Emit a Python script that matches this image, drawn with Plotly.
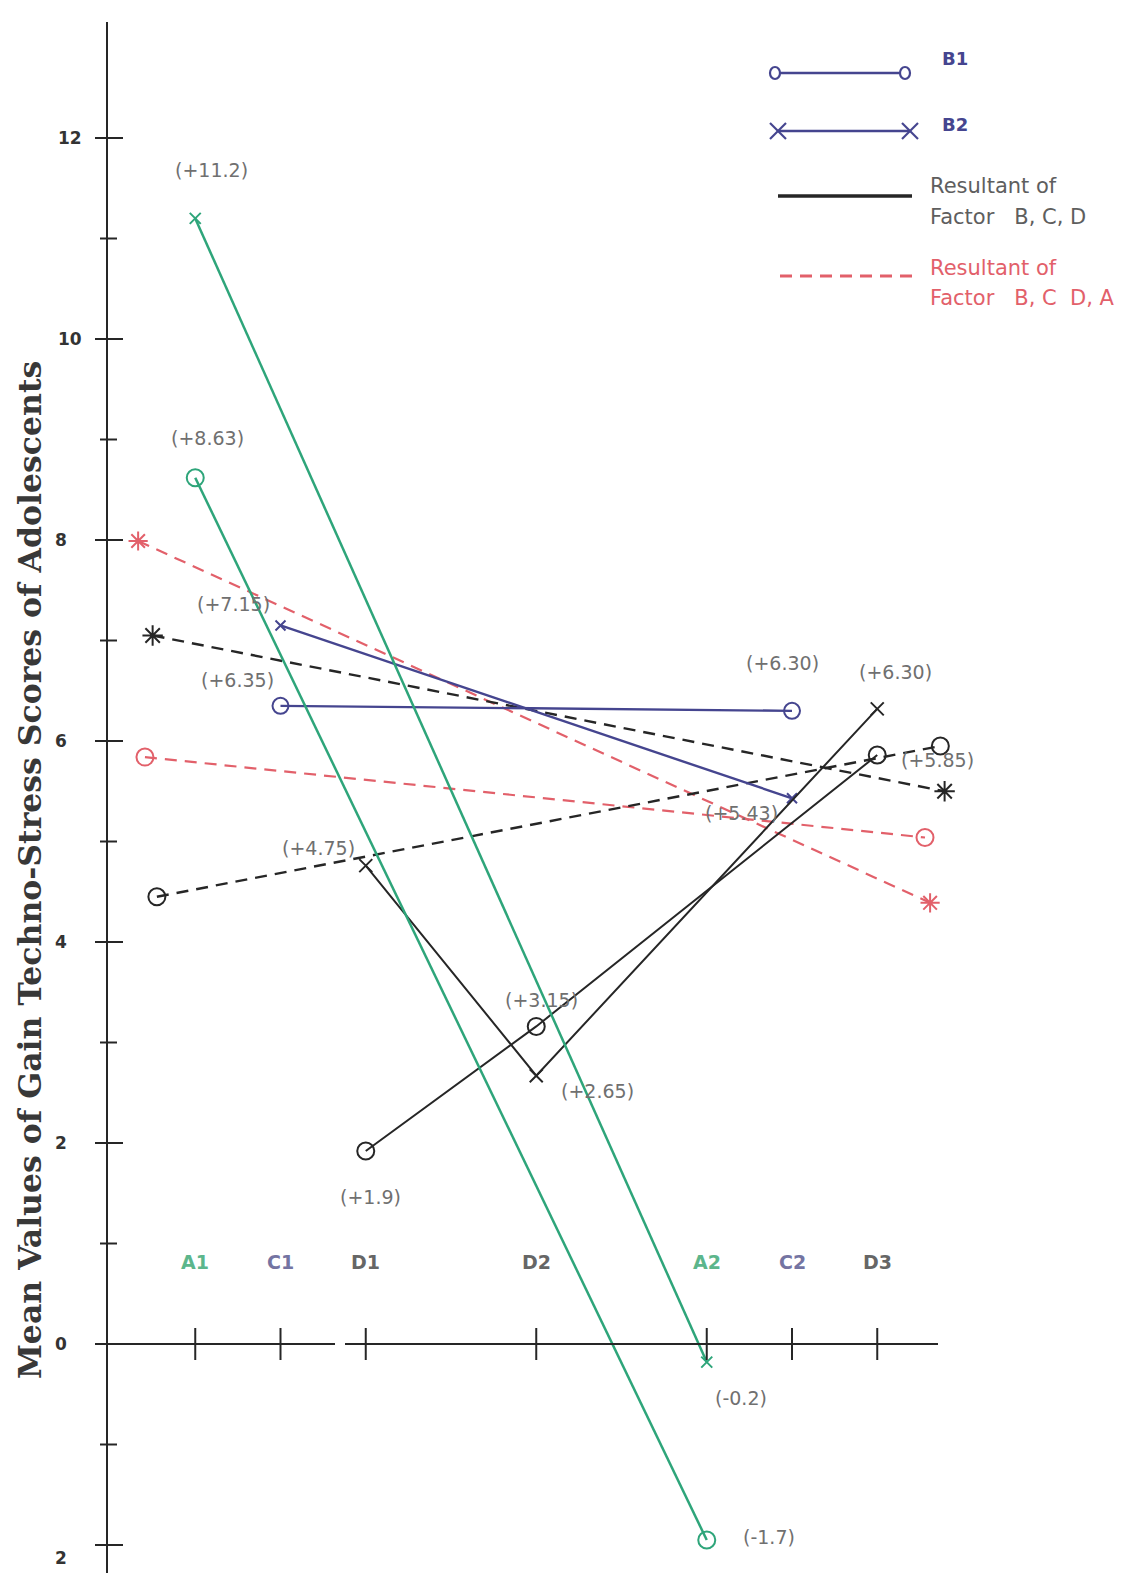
import plotly.graph_objects as go

W, H = 1148, 1573
OFF = 8  # page body margin compensation

# ---------------- data ----------------
categories = ["A1", "C1", "D1", "D2", "A2", "C2", "D3"]
cat_x = [1, 2, 3, 5, 7, 8, 9]
cat_colors = ["#5cb68c", "#7474a2", "#666666", "#666666", "#5cb68c", "#7474a2", "#666666"]

y_major = [12, 10, 8, 6, 4, 2, 0, -2]
y_major_text = ["12", "10", "8", "6", "4", "2", "0", "2"]
y_minor = [11, 9, 7, 5, 3, 1, -1]

# Factor A (green)
a_x = [1, 7]
a_b2 = [11.2, -0.18]
a_b1 = [8.62, -1.95]
# Factor C (blue)
c_x = [2, 8]
c_b1 = [6.35, 6.30]
c_b2 = [7.15, 5.43]
# Factor D (black)
d_x = [3, 5, 9]
d_b1 = [1.92, 3.16, 5.86]
d_b2 = [4.76, 2.67, 6.32]
# Resultant of factor B, C, D (black dashed)
rbcd_b1_x = [0.55, 9.74]
rbcd_b1 = [4.45, 5.95]
rbcd_b2_x = [0.50, 9.79]
rbcd_b2 = [7.05, 5.50]
# Resultant of factor B, C, D, A (red dashed)
rall_b1_x = [0.41, 9.56]
rall_b1 = [5.84, 5.04]
rall_b2_x = [0.33, 9.62]
rall_b2 = [7.99, 4.39]

# ---------------- geometry helpers (reference pixel layout) ----------------
X0, XU = 110.0, 85.25
Y0, YU = 1344.0, 100.5


def px2x(px):
    return (px - X0) / XU


def py2y(py):
    return (Y0 - py) / YU


def pxp(px):
    return (px - OFF) / W


def pyp(py):
    return 1 - (py - OFF) / H


GREEN = "#2ea57a"
NAVY = "#45458f"
BLACK = "#262626"
RED = "#e2606a"
GRAY = "#707070"

fig = go.Figure()


def add(xs, ys, color, symbol, size, dash="solid", width=2.2, mwidth=2):
    fig.add_trace(go.Scatter(
        x=xs, y=ys, mode="lines+markers",
        line=dict(color=color, width=width, dash=dash),
        marker=dict(symbol=symbol, size=size, color=color,
                    line=dict(color=color, width=mwidth)),
        showlegend=False, hoverinfo="skip"))


DASH = "12px,8px"
add(rall_b1_x, rall_b1, RED, "circle-open", 17, DASH, 2.2)
add(rall_b2_x, rall_b2, RED, "asterisk-open", 16, DASH, 2.2)
add(rbcd_b1_x, rbcd_b1, BLACK, "circle-open", 17, DASH, 2.4)
add(rbcd_b2_x, rbcd_b2, BLACK, "asterisk-open", 17, DASH, 2.4)
add(c_x, c_b1, NAVY, "circle-open", 16, width=2.4)
add(c_x, c_b2, NAVY, "x-thin-open", 10, width=2.4)
add(d_x, d_b1, BLACK, "circle-open", 17, width=2)
add(d_x, d_b2, BLACK, "x-thin-open", 13, width=2)
add(a_x, a_b2, GREEN, "x-thin-open", 11, width=2.5)
add(a_x, a_b1, GREEN, "circle-open", 17, width=2.5)

shapes = []
# y axis
shapes.append(dict(type="line", xref="x", yref="y", x0=px2x(107), x1=px2x(107),
                   y0=py2y(22), y1=py2y(1590), line=dict(color=BLACK, width=2)))
for v in y_major:
    shapes.append(dict(type="line", xref="x", yref="y", x0=px2x(95), x1=px2x(123),
                       y0=v, y1=v, line=dict(color=BLACK, width=2)))
for v in y_minor:
    shapes.append(dict(type="line", xref="x", yref="y", x0=px2x(100), x1=px2x(117),
                       y0=v, y1=v, line=dict(color=BLACK, width=2)))
# x axis (with a small break before D1)
shapes.append(dict(type="line", xref="x", yref="y", x0=px2x(107), x1=px2x(335),
                   y0=0, y1=0, line=dict(color=BLACK, width=2)))
shapes.append(dict(type="line", xref="x", yref="y", x0=px2x(345), x1=px2x(938),
                   y0=0, y1=0, line=dict(color=BLACK, width=2)))
for cx in cat_x:
    shapes.append(dict(type="line", xref="x", yref="y", x0=cx, x1=cx,
                       y0=py2y(1328), y1=py2y(1360), line=dict(color=BLACK, width=2)))


# legend swatches (paper coordinates from pixel layout)
def pline(x0, y0, x1, y1, color, width, dash="solid"):
    shapes.append(dict(type="line", xref="paper", yref="paper",
                       x0=pxp(x0), y0=pyp(y0), x1=pxp(x1), y1=pyp(y1),
                       line=dict(color=color, width=width, dash=dash)))


def pcircle(cx, cy, rx, ry, color):
    shapes.append(dict(type="circle", xref="paper", yref="paper",
                       x0=pxp(cx - rx), x1=pxp(cx + rx), y0=pyp(cy - ry), y1=pyp(cy + ry),
                       line=dict(color=color, width=2.2), fillcolor="white"))


def pcross(cx, cy, r, color):
    pline(cx - r, cy - r, cx + r, cy + r, color, 2.2)
    pline(cx - r, cy + r, cx + r, cy - r, color, 2.2)


pline(775, 73, 905, 73, NAVY, 2.5)
pcircle(775, 73, 5, 6, NAVY)
pcircle(905, 73, 5, 6, NAVY)
pline(778, 131, 910, 131, NAVY, 2.5)
pcross(778, 131, 8, NAVY)
pcross(910, 131, 8, NAVY)
pline(778, 196, 912, 196, BLACK, 3.5)
pline(780, 276, 912, 276, RED, 3, "12px,8px")

annotations = []


def ptext(text, px, py, color, size, bold=False, anchor="left"):
    annotations.append(dict(xref="paper", yref="paper", x=pxp(px), y=pyp(py),
                            text=f"<b>{text}</b>" if bold else text, showarrow=False,
                            xanchor=anchor, yanchor="middle",
                            font=dict(family="DejaVu Sans", size=size, color=color)))


ptext("B1", 940, 59, NAVY, 18, bold=True)
ptext("B2", 940, 124, NAVY, 18, bold=True)
ptext("Resultant of", 928, 186, "#5e5e5e", 21)
ptext("Factor \u00a0 B, C, D", 928, 217, "#5e5e5e", 21)
ptext("Resultant of", 928, 268, RED, 21)
ptext("Factor \u00a0 B, C \u00a0D, A", 928, 298, RED, 21)

# y tick labels
for v, t in zip(y_major, y_major_text):
    annotations.append(dict(xref="paper", yref="y", x=pxp(70 if len(t) == 2 else 61), y=v,
                            yshift=-13 if v < 0 else 0,
                            text=f"<b>{t}</b>", showarrow=False, xanchor="center",
                            yanchor="middle",
                            font=dict(family="DejaVu Sans", size=17, color="#333333")))

# category labels
for c, cx, col in zip(categories, cat_x, cat_colors):
    annotations.append(dict(xref="x", yref="y", x=cx, y=py2y(1262), text=f"<b>{c}</b>",
                            showarrow=False, xanchor="center", yanchor="middle",
                            font=dict(family="DejaVu Sans", size=19, color=col)))

# value labels (pixel layout positions)
value_labels = [
    ("(+11.2)", 211, 170), ("(+8.63)", 207, 438), ("(+7.15)", 233, 604),
    ("(+6.35)", 237, 680), ("(+4.75)", 318, 848), ("(+3.15)", 541, 1000),
    ("(+2.65)", 597, 1091), ("(+1.9)", 370, 1197), ("(+6.30)", 782, 663),
    ("(+6.30)", 895, 672), ("(+5.85)", 937, 760), ("(+5.43)", 741, 813),
    ("(-0.2)", 741, 1398), ("(-1.7)", 769, 1537),
]
for t, px, py in value_labels:
    annotations.append(dict(xref="x", yref="y", x=px2x(px), y=py2y(py), text=t,
                            showarrow=False, xanchor="center", yanchor="middle",
                            font=dict(family="DejaVu Sans", size=19, color=GRAY)))

# y axis title
annotations.append(dict(xref="paper", yref="paper", x=pxp(29), y=pyp(870),
                        text="<b>Mean Values of Gain Techno-Stress Scores of Adolescents</b>",
                        textangle=-90, showarrow=False, xanchor="center", yanchor="middle",
                        font=dict(family="DejaVu Serif", size=31.5, color="#383838")))

fig.update_layout(
    width=W, height=H, margin=dict(l=0, r=0, t=0, b=0),
    paper_bgcolor="white", plot_bgcolor="white",
    xaxis=dict(range=[px2x(OFF), px2x(W + OFF)], visible=False, fixedrange=True),
    yaxis=dict(range=[py2y(H + OFF), py2y(OFF)], visible=False, fixedrange=True),
    shapes=shapes, annotations=annotations, showlegend=False,
)

fig.write_html("out.html")
